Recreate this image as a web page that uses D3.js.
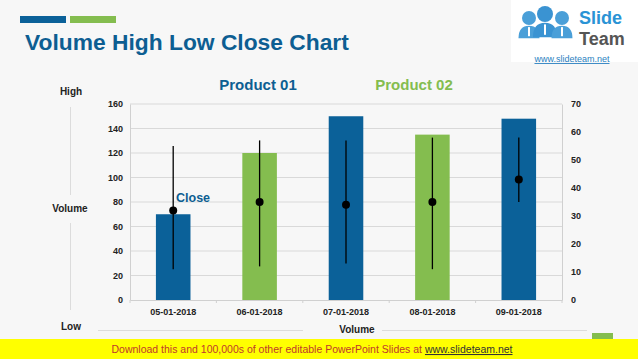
<!DOCTYPE html>
<html><head><meta charset="utf-8">
<script src="https://cdn.jsdelivr.net/npm/d3@7"></script>
<style>html,body{margin:0;padding:0;background:#f7f7f7;}svg{display:block;font-family:"Liberation Sans",Arial,sans-serif;}</style>
</head><body>
<script>
const categories = ["05-01-2018","06-01-2018","07-01-2018","08-01-2018","09-01-2018"];
const volume = [70, 120, 150, 135, 148];
const high = [55, 57, 57, 58, 58];
const low = [11, 12, 13, 11, 35];
const close = [32, 35, 34, 35, 43];
const product = ["Product 01","Product 02","Product 01","Product 02","Product 01"];
const leftTicks = [0,20,40,60,80,100,120,140,160];
const rightTicks = [0,10,20,30,40,50,60,70];
const colors = {"Product 01":"#0b6199","Product 02":"#84bd4f"};

const W=638,H=359;
const svg=d3.select("body").append("svg").attr("width",W).attr("height",H);
svg.append("rect").attr("width",W).attr("height",H).attr("fill","#f7f7f7");

// header bars
svg.append("rect").attr("x",20).attr("y",16).attr("width",46).attr("height",7).attr("fill","#0b6199");
svg.append("rect").attr("x",70).attr("y",16).attr("width",46).attr("height",7).attr("fill","#84bd4f");
svg.append("text").attr("x",25).attr("y",50).attr("font-size",22.8).attr("font-weight","bold").attr("fill","#0d5e92").text("Volume High Low Close Chart");

// logo
const lg=svg.append("g");
lg.append("rect").attr("x",511).attr("y",0).attr("width",127).attr("height",62).attr("fill","#ffffff");
[[529,18,7,"#4a9fd8"],[545,14,8,"#3a93d2"],[562,18,7,"#4a9fd8"]].forEach(([cx,cy,r,c])=>{
  lg.append("circle").attr("cx",cx).attr("cy",cy).attr("r",r).attr("fill",c);
  lg.append("path").attr("d",`M${cx-r*1.5},${cy+r*2.9} Q${cx-r*1.5},${cy+r*1.1} ${cx},${cy+r*1.1} Q${cx+r*1.5},${cy+r*1.1} ${cx+r*1.5},${cy+r*2.9} Z`).attr("fill",c);
  lg.append("rect").attr("x",cx-1).attr("y",cy+r*1.3).attr("width",2).attr("height",r*1.3).attr("fill","#ffffff");
});
lg.append("text").attr("x",579).attr("y",24).attr("font-size",18).attr("font-weight","bold").attr("fill","#2a93d5").text("Slide");
lg.append("text").attr("x",579).attr("y",45).attr("font-size",18).attr("font-weight","bold").attr("fill","#555").text("Team");
lg.append("text").attr("x",572).attr("y",62).attr("font-size",9).attr("text-anchor","middle").attr("fill","#2a7fc0").attr("text-decoration","underline").text("www.slideteam.net");

// plot
const x0=130,x1=562,yTop=104,yBot=300;
const x=d3.scaleBand().domain(categories).range([x0,x1]).paddingInner(0.6).paddingOuter(0.3);
const yL=d3.scaleLinear().domain([0,160]).range([yBot,yTop]);
const yR=d3.scaleLinear().domain([0,70]).range([yBot,yTop]);

// gridlines
svg.append("g").selectAll("line").data(leftTicks.filter(d=>d>0)).join("line")
  .attr("x1",x0).attr("x2",x1).attr("y1",d=>yL(d)).attr("y2",d=>yL(d)).attr("stroke","#d9d9d9").attr("stroke-width",1);

// axes
const ax=d3.axisLeft(yL).tickValues(leftTicks).tickSize(0).tickPadding(7);
const gL=svg.append("g").attr("transform",`translate(${x0},0)`).call(ax);
const gR=svg.append("g").attr("transform",`translate(${x1},0)`).call(d3.axisRight(yR).tickValues(rightTicks).tickSize(0).tickPadding(9));
const gB=svg.append("g").attr("transform",`translate(0,${yBot})`).call(d3.axisBottom(x).tickSize(0).tickPadding(9));
[gL,gR,gB].forEach(g=>{
  g.select(".domain").attr("stroke","#d0d0d0");
  g.selectAll("text").attr("font-size",9).attr("font-weight","bold").attr("fill","#222").attr("font-family","Liberation Sans, Arial, sans-serif");
});
// small category separator ticks
svg.append("g").selectAll("line").data(d3.range(categories.length+1)).join("line")
  .attr("x1",d=>x0+d*(x1-x0)/categories.length).attr("x2",d=>x0+d*(x1-x0)/categories.length)
  .attr("y1",yBot).attr("y2",yBot+3).attr("stroke","#d0d0d0");

// bars
svg.append("g").selectAll("rect").data(categories).join("rect")
  .attr("x",d=>x(d)).attr("width",x.bandwidth())
  .attr("y",(d,i)=>yL(volume[i])).attr("height",(d,i)=>yBot-yL(volume[i]))
  .attr("fill",(d,i)=>colors[product[i]]);

// high-low lines and close
const cx=d=>x(d)+x.bandwidth()/2;
svg.append("g").selectAll("line").data(categories).join("line")
  .attr("x1",cx).attr("x2",cx).attr("y1",(d,i)=>yR(high[i])).attr("y2",(d,i)=>yR(low[i]))
  .attr("stroke","#000").attr("stroke-width",1.3);
svg.append("g").selectAll("circle").data(categories).join("circle")
  .attr("cx",cx).attr("cy",(d,i)=>yR(close[i])).attr("r",4).attr("fill","#000");

// labels
svg.append("text").attr("x",176).attr("y",202).attr("font-size",12.5).attr("font-weight","bold").attr("fill","#0d5e92").text("Close");
svg.append("text").attr("x",258).attr("y",90).attr("text-anchor","middle").attr("font-size",15).attr("font-weight","bold").attr("fill","#0d5e92").text("Product 01");
svg.append("text").attr("x",414).attr("y",90).attr("text-anchor","middle").attr("font-size",15).attr("font-weight","bold").attr("fill","#84bd4f").text("Product 02");

// left vertical axis labels
svg.append("text").attr("x",71).attr("y",95).attr("text-anchor","middle").attr("font-size",10).attr("font-weight","bold").attr("fill","#222").text("High");
svg.append("text").attr("x",70).attr("y",212).attr("text-anchor","middle").attr("font-size",10).attr("font-weight","bold").attr("fill","#222").text("Volume");
svg.append("text").attr("x",71).attr("y",330).attr("text-anchor","middle").attr("font-size",10).attr("font-weight","bold").attr("fill","#222").text("Low");
svg.append("line").attr("x1",70.5).attr("x2",70.5).attr("y1",107).attr("y2",195).attr("stroke","#dcdcdc");
svg.append("line").attr("x1",70.5).attr("x2",70.5).attr("y1",223).attr("y2",310).attr("stroke","#dcdcdc");
svg.append("text").attr("x",357).attr("y",333).attr("text-anchor","middle").attr("font-size",10).attr("font-weight","bold").attr("fill","#222").text("Volume");
svg.append("line").attr("x1",98).attr("x2",303).attr("y1",330.5).attr("y2",330.5).attr("stroke","#dcdcdc");
svg.append("line").attr("x1",382).attr("x2",587).attr("y1",330.5).attr("y2",330.5).attr("stroke","#dcdcdc");

// bottom banner
svg.append("rect").attr("x",592).attr("y",333).attr("width",21).attr("height",8).attr("fill","#84bd4f");
svg.append("rect").attr("x",0).attr("y",339).attr("width",W).attr("height",20).attr("fill","#ffff00");
const bt=svg.append("text").attr("x",312).attr("y",353).attr("text-anchor","middle").attr("font-size",10.5).attr("fill","#c0392b");
bt.append("tspan").text("Download this and 100,000s of other editable PowerPoint Slides at ");
bt.append("tspan").attr("fill","#333").attr("text-decoration","underline").text("www.slideteam.net");
</script>
</body></html>
